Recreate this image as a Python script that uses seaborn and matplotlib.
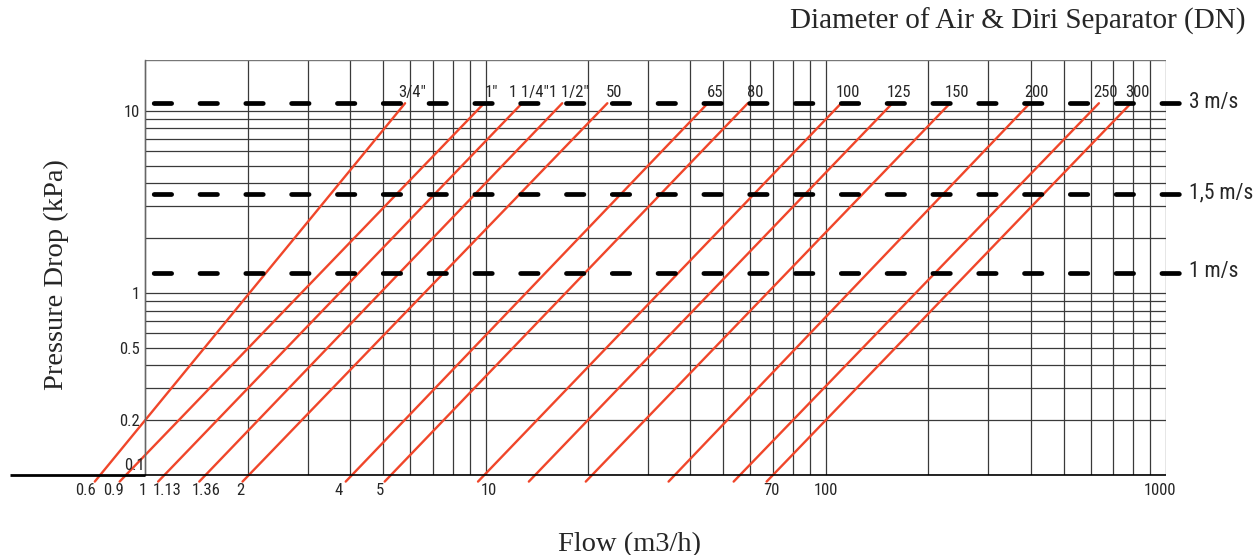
import matplotlib
matplotlib.use("Agg")
import matplotlib.pyplot as plt
import seaborn as sns
import pandas as pd
from matplotlib import font_manager
from matplotlib.ticker import FixedLocator, NullFormatter

# separator sizes (DN) and the flow at both ends of each red line
dn_labels = ['3/4"', '1"', '1 1/4"', '1 1/2"', '50', '65', '80',
             '100', '125', '150', '200', '250', '300']
flow_start = [0.71, 0.84, 1.09, 1.44, 1.93, 3.88, 5.05, 9.5, 13.4, 19.7, 34.5, 53.6, 67.0]
flow_end = [5.8, 9.9, 12.8, 16.8, 22.8, 45.0, 59.0, 111, 157, 232, 398, 635, 789]
dp_start = 0.092

# velocity reference lines (kPa)
velocity_labels = ['3 m/s', '1,5 m/s', '1 m/s']
velocity_dp = [11.0, 3.47, 1.29]

# axis labels as printed
flow_tick_text = ['0.6', '0.9', '1', '1.13', '1.36', '2', '4', '5', '10', '70', '100', '1000']
flow_tick_at = [0.666, 0.805, 0.986, 1.16, 1.51, 1.90, 3.69, 4.88, 10.2, 69.4, 100, 960]
dp_tick_text = ['0.2', '0.5', '1', '10']
dp_tick_at = [0.2, 0.5, 1, 10]

XMIN, XMAX = 0.4, 1000
YMIN, YMAX = 0.1, 19
DASH_END = 1140

sns.set_style('white')

# the original uses a narrow sans; take one if installed, else shrink a bit
installed = {f.name for f in font_manager.fontManager.ttflist}
narrow = [n for n in ['Liberation Sans Narrow', 'Noto Sans Condensed', 'Roboto Condensed',
                      'Open Sans Condensed'] if n in installed]
if narrow:
    plt.rcParams['font.family'] = [narrow[0], 'DejaVu Sans']
    fs_tick, fs_vel = 12, 15.5
else:
    plt.rcParams['font.family'] = ['Liberation Sans', 'DejaVu Sans']
    fs_tick, fs_vel = 10.5, 13.5
serif = ['Liberation Serif', 'DejaVu Serif']

red = '#f0462a'
grid_c = '#3a3a3a'

fig = plt.figure(figsize=(12.59, 5.55), dpi=100)
ax = fig.add_axes([10 / 1259, 80 / 555, 1156 / 1259, 415 / 555])
ax.set_xscale('log')
ax.set_yscale('log')
ax.set_xlim(XMIN, XMAX)
ax.set_ylim(YMIN, YMAX)

# log grid, only right of flow = 1
xgrid = [k * 10 ** d for d in range(3) for k in range(1, 10)] + [1000]
ygrid = [k * 10.0 ** d for d in (-1, 0) for k in range(1, 10)] + [10]
ax.vlines(xgrid, YMIN, YMAX, colors=grid_c, lw=0.9, zorder=1)
ax.hlines(ygrid, 1, XMAX, colors=grid_c, lw=0.9, zorder=1)
ax.hlines(YMAX, 1, XMAX, colors='#777777', lw=1.0, zorder=1)

# base line: heavy stub left of 1, thinner across the grid
ax.hlines(YMIN, XMIN, 1, colors='black', lw=2.0, clip_on=False, zorder=3)
ax.hlines(YMIN, 1, XMAX, colors='black', lw=1.2, clip_on=False, zorder=3)

for s in ['top', 'right', 'bottom']:
    ax.spines[s].set_visible(False)
ax.spines['left'].set_position(('data', 1))
ax.spines['left'].set_color('#666666')
ax.spines['left'].set_linewidth(1.0)

# red pressure-drop lines
rows = []
for lab, f0, f1 in zip(dn_labels, flow_start, flow_end):
    rows.append({'dn': lab, 'flow': f0, 'dp': dp_start})
    rows.append({'dn': lab, 'flow': f1, 'dp': velocity_dp[0]})
df = pd.DataFrame(rows)
n_before = len(ax.get_lines())
sns.lineplot(data=df, x='flow', y='dp', units='dn', estimator=None, sort=False,
             color=red, lw=1.7, ax=ax, legend=False)
for ln in ax.get_lines()[n_before:]:
    ln.set_clip_on(False)
    ln.set_zorder(2)
ax.set_xlabel('')
ax.set_ylabel('')

for lab, f1 in zip(dn_labels, flow_end):
    ax.annotate(lab, (f1, velocity_dp[0]), xytext=(5.0, 4.3), textcoords='offset points',
                ha='center', va='baseline', fontsize=fs_tick, annotation_clip=False)

# velocity dashed lines
for lab, dp in zip(velocity_labels, velocity_dp):
    ax.plot([1, DASH_END], [dp, dp], color='black', lw=3.4, ls=(7.86, (3.7, 6.0)),
            dash_capstyle='round', solid_capstyle='round', clip_on=False, zorder=4)
    ax.annotate(lab, (DASH_END, dp), xytext=(2.5, -3.2), textcoords='offset points',
                ha='left', va='baseline', fontsize=fs_vel, annotation_clip=False)

# ticks
ax.xaxis.set_major_locator(FixedLocator(flow_tick_at))
ax.set_xticklabels(flow_tick_text)
ax.xaxis.set_minor_locator(FixedLocator(xgrid))
ax.xaxis.set_minor_formatter(NullFormatter())
ax.xaxis.remove_overlapping_locs = False
ax.tick_params(axis='x', which='major', length=0, pad=6, labelsize=fs_tick)
ax.tick_params(axis='x', which='minor', length=3.6, width=0.9, color=grid_c, direction='out')

ax.yaxis.set_major_locator(FixedLocator(dp_tick_at))
ax.set_yticklabels(dp_tick_text)
ax.yaxis.set_minor_locator(FixedLocator(ygrid))
ax.yaxis.set_minor_formatter(NullFormatter())
ax.yaxis.remove_overlapping_locs = False
ax.tick_params(axis='y', which='both', length=3, width=0.8, color=grid_c,
               direction='out', pad=1, labelsize=fs_tick)
ax.annotate('0.1', (1, YMIN), xytext=(-0.7, 1.5), textcoords='offset points',
            ha='right', va='bottom', fontsize=fs_tick, annotation_clip=False)

# titles
fig.text(1245 / 1259, 1 - 29 / 555, 'Diameter of Air & Diri Separator (DN)',
         ha='right', va='baseline', fontsize=21, family=serif)
fig.text(630 / 1259, 4 / 555, 'Flow (m3/h)', ha='center', va='baseline',
         fontsize=20.5, family=serif)
fig.text(56 / 1259, 1 - 275 / 555, 'Pressure Drop (kPa)', ha='center', va='center',
         rotation=90, fontsize=20.5, family=serif)

fig.savefig('out.png', dpi=100)
